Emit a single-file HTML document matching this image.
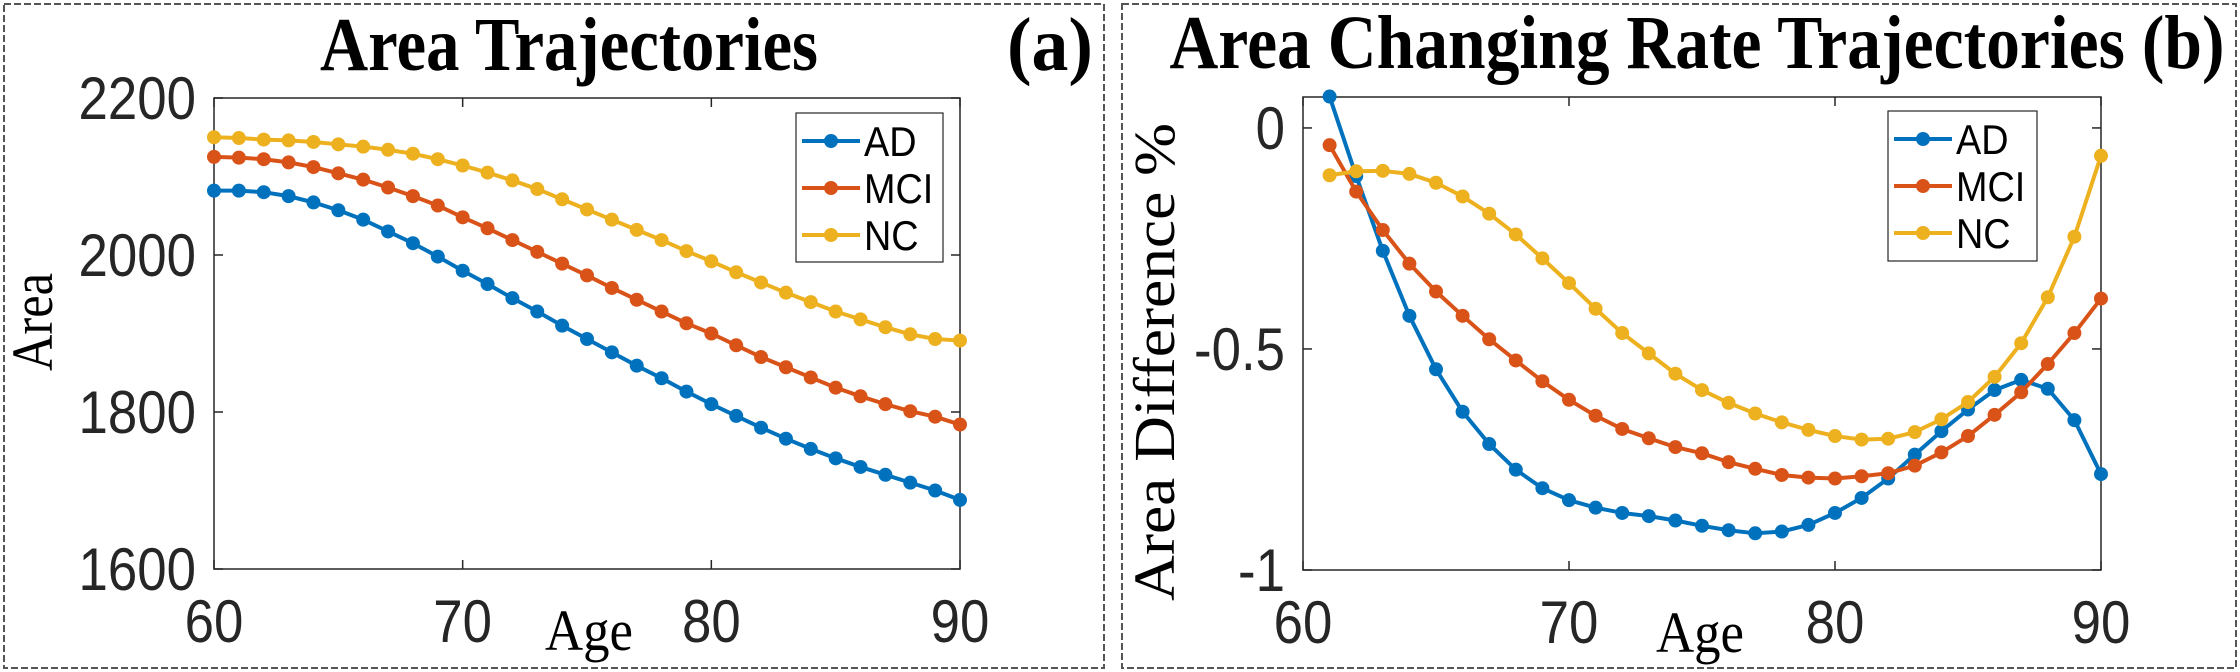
<!DOCTYPE html>
<html><head><meta charset="utf-8"><style>
html,body{margin:0;padding:0;background:#fff;}
svg{display:block;}
</style></head><body>
<svg id="fig" width="2240" height="672" viewBox="0 0 2240 672" xmlns="http://www.w3.org/2000/svg">
<rect x="4" y="4" width="1100" height="664" fill="none" stroke="#555" stroke-width="2" stroke-dasharray="7,3"/>
<rect x="1122" y="4" width="1114" height="664" fill="none" stroke="#555" stroke-width="2" stroke-dasharray="7,3"/>
<g id="pa"></g>
<g id="pb"></g>
<text x="569" y="70" text-anchor="middle" font-family="Liberation Serif, serif" font-weight="bold" font-size="76" fill="#000" textLength="498" lengthAdjust="spacingAndGlyphs">Area Trajectories</text>
<text x="1050" y="70" text-anchor="middle" font-family="Liberation Serif, serif" font-weight="bold" font-size="76" fill="#000" textLength="86" lengthAdjust="spacingAndGlyphs">(a)</text>
<text x="1697" y="68" text-anchor="middle" font-family="Liberation Serif, serif" font-weight="bold" font-size="76" fill="#000" textLength="1055" lengthAdjust="spacingAndGlyphs">Area Changing Rate Trajectories (b)</text>
<text x="589" y="650" text-anchor="middle" font-family="Liberation Serif, serif" font-size="58" fill="#000" textLength="88" lengthAdjust="spacingAndGlyphs">Age</text>
<text x="1700" y="652" text-anchor="middle" font-family="Liberation Serif, serif" font-size="58" fill="#000" textLength="88" lengthAdjust="spacingAndGlyphs">Age</text>
<text transform="translate(52,322) rotate(-90)" text-anchor="middle" font-family="Liberation Serif, serif" font-size="58" fill="#000" textLength="98" lengthAdjust="spacingAndGlyphs">Area</text>
<text transform="translate(1174,362) rotate(-90)" text-anchor="middle" font-family="Liberation Serif, serif" font-size="58" fill="#000" textLength="478" lengthAdjust="spacingAndGlyphs">Area Difference %</text>
</svg>
<script>
const ages = [60,61,62,63,64,65,66,67,68,69,70,71,72,73,74,75,76,77,78,79,80,81,82,83,84,85,86,87,88,89,90];
const areaAD = [2082,2082,2080,2075,2067,2057,2045,2030,2015,1998,1980,1963,1945,1928,1910,1893,1876,1859,1843,1826,1810,1795,1780,1766,1753,1741,1730,1720,1710,1700,1688];
const areaMCI = [2125,2124,2122,2118,2112,2104,2096,2086,2075,2063,2048,2034,2019,2004,1989,1974,1958,1943,1928,1913,1900,1885,1870,1857,1844,1831,1820,1810,1801,1794,1784];
const areaNC = [2150,2149,2147,2146,2144,2141,2138,2134,2129,2122,2114,2105,2095,2084,2071,2058,2045,2032,2019,2005,1992,1978,1965,1952,1940,1928,1918,1908,1899,1893,1891];
const rateAges = [61,62,63,64,65,66,67,68,69,70,71,72,73,74,75,76,77,78,79,80,81,82,83,84,85,86,87,88,89,90];
const rateAD = [0.071,-0.109,-0.278,-0.425,-0.546,-0.642,-0.715,-0.773,-0.815,-0.842,-0.859,-0.871,-0.878,-0.888,-0.900,-0.910,-0.917,-0.913,-0.898,-0.871,-0.837,-0.793,-0.739,-0.686,-0.637,-0.593,-0.570,-0.590,-0.661,-0.783];
const rateMCI = [-0.039,-0.144,-0.231,-0.307,-0.370,-0.425,-0.478,-0.526,-0.573,-0.615,-0.651,-0.681,-0.702,-0.722,-0.736,-0.756,-0.771,-0.785,-0.791,-0.793,-0.788,-0.781,-0.764,-0.734,-0.697,-0.649,-0.598,-0.534,-0.464,-0.386];
const rateNC = [-0.107,-0.098,-0.097,-0.104,-0.124,-0.155,-0.194,-0.241,-0.295,-0.351,-0.409,-0.464,-0.510,-0.556,-0.593,-0.622,-0.646,-0.666,-0.683,-0.697,-0.705,-0.703,-0.688,-0.659,-0.620,-0.563,-0.487,-0.383,-0.246,-0.063];
const xTicks = [60,70,80,90];
const aTicks = [1600,1800,2000,2200];
const aTickLabels = ["1600","1800","2000","2200"];
const bTicks = [-1,-0.5,0];
const bTickLabels = ["-1","-0.5","0"];
const legendNames = ["AD","MCI","NC"];
const colors = ["#0072BD","#D95319","#EDB120"];

const NS = "http://www.w3.org/2000/svg";
function mk(parent, tag, attrs, text){
  const e = document.createElementNS(NS, tag);
  for (const k in attrs) e.setAttribute(k, attrs[k]);
  if (text !== undefined) e.textContent = text;
  parent.appendChild(e);
  return e;
}

function panel(g, cfg){
  const {x0,x1,y0,y1,xmin,xmax,ymin,ymax} = cfg;
  const sx = v => x0 + (v-xmin)/(xmax-xmin)*(x1-x0);
  const sy = v => y1 - (v-ymin)/(ymax-ymin)*(y1-y0);
  const box = mk(g,"rect",{x:x0,y:y0,width:x1-x0,height:y1-y0,fill:"none",stroke:"#262626","stroke-width":1.5});
  
  
  xTicks.forEach(t=>{
    const X = sx(t);
    mk(g,"line",{x1:X,x2:X,y1:y1,y2:y1-9,stroke:"#262626","stroke-width":1.5});
    mk(g,"line",{x1:X,x2:X,y1:y0,y2:y0+9,stroke:"#262626","stroke-width":1.5});
    const tl = mk(g,"text",{transform:"translate("+X+","+(y1+73)+") scale(0.88,1)","text-anchor":"middle","font-family":"Liberation Sans, sans-serif","font-size":60,fill:"#262626"},String(t));
    
    
  });
  cfg.yt.forEach((t,i)=>{
    const Y = sy(t);
    mk(g,"line",{x1:x0,x2:x0+9,y1:Y,y2:Y,stroke:"#262626","stroke-width":1.5});
    mk(g,"line",{x1:x1,x2:x1-9,y1:Y,y2:Y,stroke:"#262626","stroke-width":1.5});
    const tl = mk(g,"text",{transform:"translate("+(x0-18)+","+(Y+21)+") scale(0.88,1)","text-anchor":"end","font-family":"Liberation Sans, sans-serif","font-size":60,fill:"#262626"},cfg.ytl[i]);
    
    
  });
  cfg.series.forEach((s,si)=>{
    const pts = s.map((v,i)=>sx(cfg.xs[i])+","+sy(v)).join(" ");
    const pl = mk(g,"polyline",{points:pts,fill:"none",stroke:colors[si],"stroke-width":4,"stroke-linejoin":"round"});
    
    
    s.forEach((v,i)=>{
      const c = mk(g,"circle",{cx:sx(cfg.xs[i]),cy:sy(v),r:7,fill:colors[si]});
      
      
    });
  });
  const L = cfg.leg;
  const lg = mk(g,"g",{});
  
  
  mk(lg,"rect",{x:L.x,y:L.y,width:L.w,height:L.h,fill:"#fff",stroke:"#262626","stroke-width":1.2});
  legendNames.forEach((n,i)=>{
    const cy = L.y+28+i*47;
    const e = mk(lg,"g",{});
    
    
    mk(e,"line",{x1:L.x+6,x2:L.x+64,y1:cy,y2:cy,stroke:colors[i],"stroke-width":4});
    mk(e,"circle",{cx:L.x+35,cy:cy,r:7,fill:colors[i]});
    mk(e,"text",{transform:"translate("+(L.x+68)+","+(cy+15)+") scale(0.9,1)","font-family":"Liberation Sans, sans-serif","font-size":42,fill:"#000"},n);
  });
}

const pa = document.getElementById("pa");
panel(pa,{id:"panel-a",x0:214,x1:960,y0:98,y1:569,xmin:60,xmax:90,ymin:1600,ymax:2200,yt:aTicks,ytl:aTickLabels,xs:ages,series:[areaAD,areaMCI,areaNC],leg:{x:796,y:113,w:147,h:149}});
const pb = document.getElementById("pb");
panel(pb,{id:"panel-b",x0:1303,x1:2101,y0:97,y1:570,xmin:60,xmax:90,ymin:-1,ymax:0.07,yt:bTicks,ytl:bTickLabels,xs:rateAges,series:[rateAD,rateMCI,rateNC],leg:{x:1888,y:111,w:149,h:150}});
</script>
</body></html>
